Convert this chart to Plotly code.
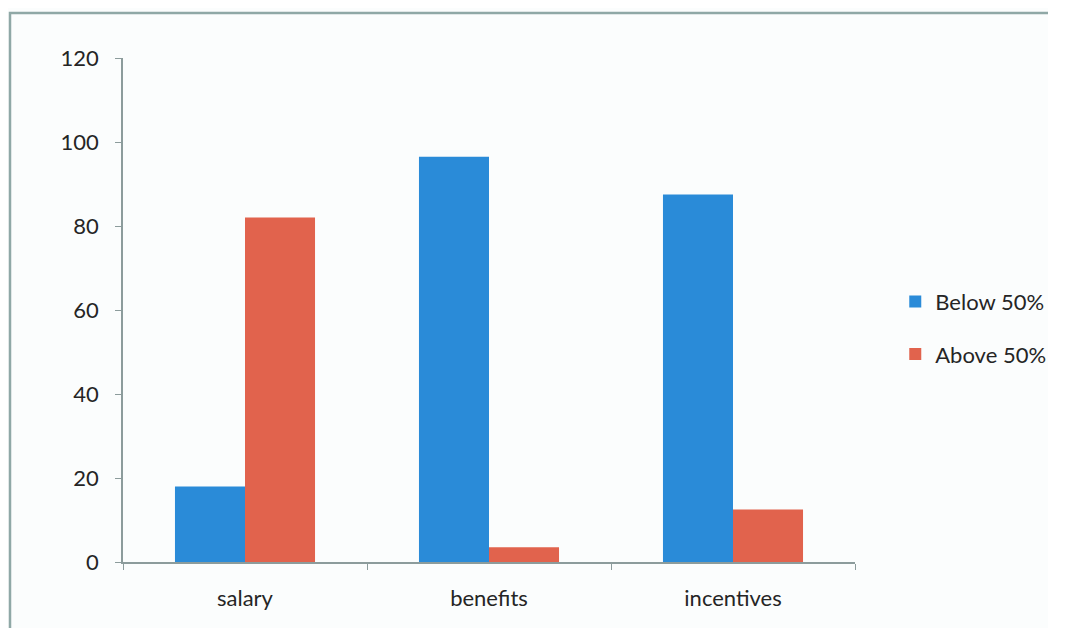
import plotly.graph_objects as go

categories = ["salary", "benefits", "incentives"]
below_50 = [18, 96.5, 87.5]
above_50 = [82, 3.5, 12.5]
y_ticks = [0, 20, 40, 60, 80, 100, 120]

FONT = "Lato, Carlito, Calibri, sans-serif"
AXIS_COLOR = "#8c9c9c"

# page body adds an 8px margin, so the figure is laid out relative to that
W, H = 1040, 620
L, R_EDGE, T, B_EDGE = 115, 847, 50, 554
PW, PH = R_EDGE - L, B_EDGE - T

fx0 = (2 - L) / PW
fy_top = (B_EDGE - 5) / PH
fy_bot = (B_EDGE - H) / PH
fx_right = (W - L) / PW
frame_path = f"M {fx0},{fy_bot} L {fx0},{fy_top} L {fx_right},{fy_top}"

fig = go.Figure()
fig.add_trace(go.Bar(name="Below 50%", x=categories, y=below_50, legendgroup="a",
                     marker=dict(color="#2a8bd8", line=dict(width=0))))
fig.add_trace(go.Bar(name="Above 50%", x=categories, y=above_50, legendgroup="b",
                     marker=dict(color="#e1634d", line=dict(width=0))))

fig.update_layout(
    width=W, height=H,
    margin=dict(l=L, r=W - R_EDGE, t=T, b=H - B_EDGE, autoexpand=False),
    paper_bgcolor="#fbfdfd",
    plot_bgcolor="rgba(0,0,0,0)",
    barmode="group",
    bargap=0.426,
    bargroupgap=0,
    font=dict(family=FONT, size=22, color="#252525"),
    showlegend=True,
    legend=dict(x=1.055, y=0.464, xanchor="left", yanchor="middle",
                bgcolor="rgba(0,0,0,0)", font=dict(size=22, color="#252525"),
                tracegroupgap=21, itemwidth=30),
    xaxis=dict(showline=True, linecolor=AXIS_COLOR, linewidth=1.5,
               ticks="outside", tickson="boundaries", ticklen=6,
               tickcolor=AXIS_COLOR, showgrid=False, zeroline=False,
               ticklabelstandoff=16),
    yaxis=dict(range=[0, 120], tickvals=y_ticks, showline=True,
               linecolor=AXIS_COLOR, linewidth=1.5, ticks="outside",
               ticklen=6, tickcolor=AXIS_COLOR, showgrid=False,
               zeroline=False, ticklabelstandoff=12),
    shapes=[dict(type="path", xref="paper", yref="paper", path=frame_path,
                 line=dict(color="#8fa8a6", width=2.5),
                 fillcolor="rgba(0,0,0,0)", layer="below")],
)

fig.write_html("out.html")
